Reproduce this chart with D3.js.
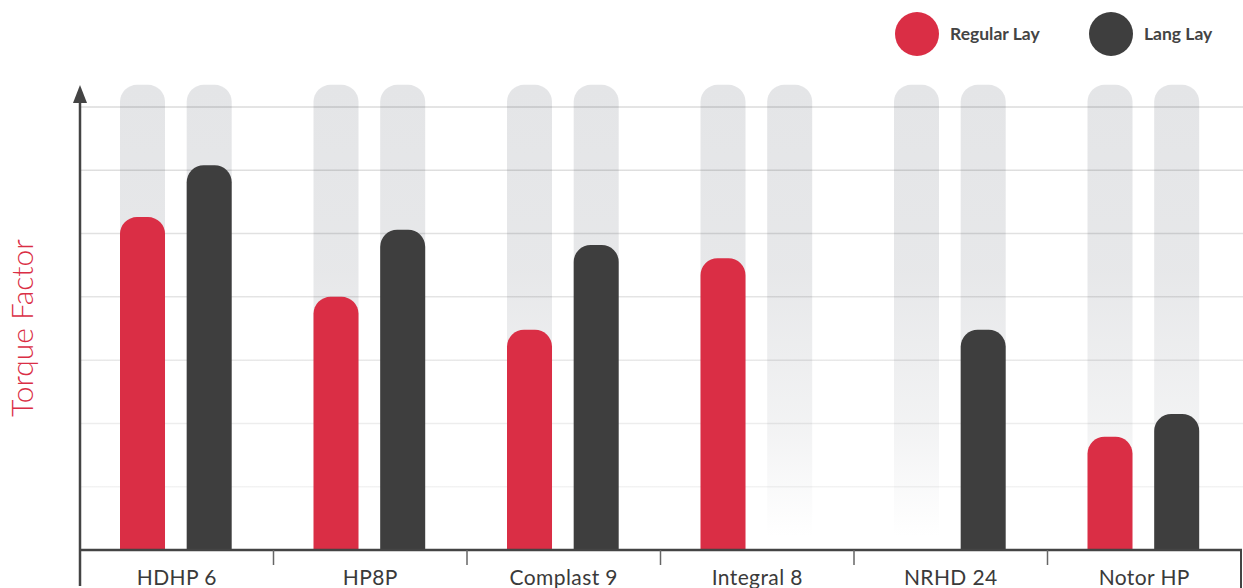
<!DOCTYPE html>
<html>
<head>
<meta charset="utf-8">
<script src="https://cdn.jsdelivr.net/npm/d3@7"></script>
<style>
  html, body { margin: 0; padding: 0; background: #fff; }
  svg { display: block; }
</style>
</head>
<body>
<svg id="chart" width="1243" height="588"></svg>
<script>
const categories = ["HDHP 6", "HP8P", "Complast 9", "Integral 8", "NRHD 24", "Notor HP"];
const seriesNames = ["Regular Lay", "Lang Lay"];
const regularLay = [5.26, 4.0, 3.48, 4.61, 0, 1.79];
const langLay = [6.08, 5.06, 4.82, 0, 3.48, 2.15];
const backgroundMax = 7.35;
const gridValues = [1, 2, 3, 4, 5, 6, 7];
const yLabel = "Torque Factor";

const colors = { "Regular Lay": "#da2e45", "Lang Lay": "#3e3e3e" };

const svg = d3.select("#chart");
const W = 1243, H = 588;
const left = 80, right = 1241, baseY = 550, topY = 107;

const x = d3.scaleBand().domain(categories).range([left, right]).padding(0);
const xs = d3.scaleBand().domain(seriesNames).range([40, 151.7]).paddingInner(0.325).paddingOuter(0);
const y = d3.scaleLinear().domain([0, 7]).range([baseY, topY]);

const defs = svg.append("defs");
const bgGrad = defs.append("linearGradient").attr("id", "bgGrad")
  .attr("gradientUnits", "userSpaceOnUse")
  .attr("x1", 0).attr("x2", 0).attr("y1", y(backgroundMax)).attr("y2", baseY);
[[0, 1], [0.4, 0.9], [0.75, 0.45], [0.97, 0]].forEach(([o, op]) =>
  bgGrad.append("stop").attr("offset", o).attr("stop-color", "#e4e5e7").attr("stop-opacity", op));

const gridGrad = defs.append("linearGradient").attr("id", "gridGrad")
  .attr("gradientUnits", "userSpaceOnUse")
  .attr("x1", 0).attr("x2", 0).attr("y1", topY - 2).attr("y2", baseY);
[[0, 0.14], [0.5, 0.1], [1, 0.03]].forEach(([o, op]) =>
  gridGrad.append("stop").attr("offset", o).attr("stop-color", "#000").attr("stop-opacity", op));

function roundedTop(x0, w, yTop, yBase, r) {
  const h = yBase - yTop;
  if (h <= 0) return "";
  r = Math.min(r, h, w / 2);
  return `M${x0},${yBase} L${x0},${yTop + r} A${r},${r} 0 0 1 ${x0 + r},${yTop} ` +
         `L${x0 + w - r},${yTop} A${r},${r} 0 0 1 ${x0 + w},${yTop + r} L${x0 + w},${yBase} Z`;
}

const R = 17;

// background bars
const bgG = svg.append("g");
categories.forEach(c => {
  seriesNames.forEach(s => {
    bgG.append("path")
      .attr("d", roundedTop(x(c) + xs(s), xs.bandwidth(), y(backgroundMax), baseY, R))
      .attr("fill", "url(#bgGrad)");
  });
});

// grid lines
svg.append("g").selectAll("line").data(gridValues).join("line")
  .attr("x1", left).attr("x2", W)
  .attr("y1", d => y(d)).attr("y2", d => y(d))
  .attr("stroke", "url(#gridGrad)")
  .attr("stroke-width", 1.5);

// data bars
const data = [];
categories.forEach((c, i) => {
  data.push({ c, s: "Regular Lay", v: regularLay[i] });
  data.push({ c, s: "Lang Lay", v: langLay[i] });
});
svg.append("g").selectAll("path").data(data.filter(d => d.v > 0)).join("path")
  .attr("d", d => roundedTop(x(d.c) + xs(d.s), xs.bandwidth(), y(d.v), baseY, R))
  .attr("fill", d => colors[d.s]);

// x axis line
const axisColor = "#444";
svg.append("line").attr("x1", left).attr("x2", right + 1)
  .attr("y1", baseY).attr("y2", baseY)
  .attr("stroke", axisColor).attr("stroke-width", 2.5);

// category boundary ticks
const bounds = categories.slice(1).map(c => x(c));
svg.append("g").selectAll("line").data(bounds).join("line")
  .attr("x1", d => d).attr("x2", d => d)
  .attr("y1", baseY).attr("y2", baseY + 15)
  .attr("stroke", "#666").attr("stroke-width", 1.5);
svg.append("line").attr("x1", right).attr("x2", right)
  .attr("y1", baseY).attr("y2", H)
  .attr("stroke", axisColor).attr("stroke-width", 2);

// x labels via axis
const xAxis = d3.axisBottom(x).tickSize(0).tickPadding(0);
const gx = svg.append("g").attr("transform", `translate(0,${baseY})`).call(xAxis);
gx.select(".domain").remove();
gx.selectAll("text")
  .attr("dy", null)
  .attr("y", 35)
  .attr("font-family", "Lato, 'Noto Sans', sans-serif")
  .attr("font-size", 21)
  .attr("letter-spacing", 0.4)
  .attr("fill", "#3a3a3a");

// y axis with arrow
svg.append("line").attr("x1", left).attr("x2", left)
  .attr("y1", 100).attr("y2", H - 2)
  .attr("stroke", axisColor).attr("stroke-width", 2.5);
svg.append("path")
  .attr("d", `M${left},85 L${left + 7},103 L${left - 7},103 Z`)
  .attr("fill", axisColor);

// y label
svg.append("text")
  .attr("transform", `translate(33,${328}) rotate(-90)`)
  .attr("text-anchor", "middle")
  .attr("font-family", "Lato, 'Noto Sans', sans-serif")
  .attr("font-weight", 300)
  .attr("font-size", 30)
  .attr("fill", "#da2e45")
  .text(yLabel);

// legend
const legendPos = [{ s: "Regular Lay", cx: 917, tx: 950 }, { s: "Lang Lay", cx: 1111, tx: 1144 }];
const lg = svg.append("g");
legendPos.forEach(p => {
  lg.append("circle").attr("cx", p.cx).attr("cy", 34).attr("r", 22).attr("fill", colors[p.s]);
  lg.append("text").attr("x", p.tx).attr("y", 40)
    .attr("font-family", "Lato, 'Noto Sans', sans-serif")
    .attr("font-weight", 700)
    .attr("font-size", 17.5)
    .attr("letter-spacing", 0)
    .attr("fill", "#444")
    .text(p.s);
});
</script>
</body>
</html>
